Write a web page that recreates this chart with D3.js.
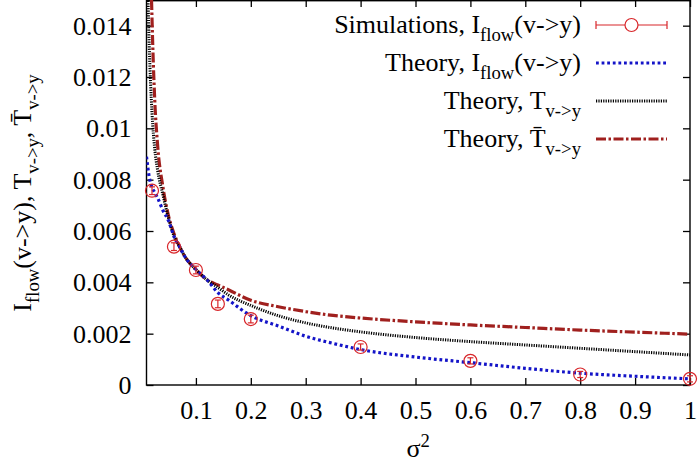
<!DOCTYPE html>
<html><head><meta charset="utf-8">
<script src="https://cdn.jsdelivr.net/npm/d3@7"></script>
<style>body{margin:0;background:#fff} svg{display:block}</style>
</head><body><svg id="c" width="700" height="464"></svg>
<script>
// ---- data ----
const sigma2 =      [0.01, 0.015, 0.02, 0.025, 0.03, 0.04, 0.05, 0.06, 0.07, 0.08, 0.1, 0.12, 0.14, 0.16, 0.2, 0.25, 0.3, 0.35, 0.4, 0.5, 0.6, 0.7, 0.8, 0.9, 1.0];
const theoryIflow = [0.0089, 0.0081, 0.0077, 0.0075, 0.0073, 0.0068, 0.0064, 0.0058, 0.0054, 0.0050, 0.0045, 0.0041, 0.0036, 0.0033, 0.0027, 0.0023, 0.0019, 0.00162, 0.00138, 0.00109, 0.00087, 0.00065, 0.00046, 0.00034, 0.00024];
const theoryT =     [0.0175, 0.0132, 0.0106, 0.0092, 0.0084, 0.0074, 0.0065, 0.0058, 0.0054, 0.0050, 0.0045, 0.0041, 0.0038, 0.0035, 0.00310, 0.00270, 0.00242, 0.00222, 0.00207, 0.00185, 0.00169, 0.00156, 0.00143, 0.00130, 0.00117];
const theoryTbar =  [0.0300, 0.0195, 0.0143, 0.0111, 0.0094, 0.0077, 0.0066, 0.0059, 0.0054, 0.0050, 0.0045, 0.0041, 0.0039, 0.0037, 0.0033, 0.00305, 0.00286, 0.00271, 0.00261, 0.00246, 0.00234, 0.00224, 0.00214, 0.00206, 0.00198];
const simSigma2 = [0.02, 0.06, 0.1, 0.14, 0.2, 0.4, 0.6, 0.8, 1.0];
const simIflow  = [0.00757, 0.00539, 0.00448, 0.00316, 0.00257, 0.00148, 0.00094, 0.00041, 0.00024];
const simErr    = [0.00015, 0.00015, 0.00015, 0.00015, 0.00015, 0.00012, 0.00012, 0.00012, 0.00012];
const xTicks = [0.1, 0.2, 0.3, 0.4, 0.5, 0.6, 0.7, 0.8, 0.9, 1];
const xTickLabels = ["0.1", "0.2", "0.3", "0.4", "0.5", "0.6", "0.7", "0.8", "0.9", "1"];
const yTicks = [0, 0.002, 0.004, 0.006, 0.008, 0.01, 0.012, 0.014];
const yTickLabels = ["0", "0.002", "0.004", "0.006", "0.008", "0.01", "0.012", "0.014"];

// ---- layout ----
const L = 146.5, R = 690, T = 0, B = 385;
const FONT = "'Liberation Serif'", FS = 26;
const RED = "#d8262a", BLUE = "#1414c8", BROWN = "#a0201e";

const svg = d3.select("#c");
const x = d3.scaleLinear().domain([0.01, 1]).range([L, R]);
const y = d3.scaleLinear().domain([0, 0.015]).range([B, T]);

svg.append("defs").append("clipPath").attr("id", "clip")
  .append("rect").attr("x", L).attr("y", T).attr("width", R - L).attr("height", B - T);

function rich(g, px, py, anchor, parts, size) {
  size = size || FS;
  const t = g.append("text").attr("x", px).attr("y", py)
    .attr("text-anchor", anchor).style("font-family", FONT).attr("font-size", size).attr("fill", "#000");
  let shift = 0;
  parts.forEach(([s, kind]) => {
    const ts = t.append("tspan").text(s);
    let target = kind === "sub" ? size * 0.32 : kind === "sup" ? -size * 0.4 : 0;
    if (target !== shift) { ts.attr("dy", target - shift); shift = target; }
    if (kind) ts.attr("font-size", size * 0.72);
  });
  return t;
}

// ---- axes ----
const tick = 7;
const gx = svg.append("g").attr("transform", `translate(0,${B})`)
  .call(d3.axisBottom(x).tickValues(xTicks).tickFormat((d, i) => xTickLabels[i]).tickSize(-tick));
const gxt = svg.append("g").attr("transform", `translate(0,${T})`)
  .call(d3.axisTop(x).tickValues(xTicks).tickFormat("").tickSize(-tick));
const gy = svg.append("g").attr("transform", `translate(${L},0)`)
  .call(d3.axisLeft(y).tickValues(yTicks).tickFormat((d, i) => yTickLabels[i]).tickSize(-tick));
const gyr = svg.append("g").attr("transform", `translate(${R},0)`)
  .call(d3.axisRight(y).tickValues(yTicks).tickFormat("").tickSize(-tick));
[gx, gxt, gy, gyr].forEach(g => {
  g.attr("font-family", null).attr("font-size", null);
  g.select(".domain").remove();
  g.selectAll(".tick line").attr("stroke", "#000").attr("stroke-width", 1.3);
});
[gx, gy].forEach(g => {
  g.selectAll(".tick text").style("font-family", FONT).attr("font-size", FS).attr("fill", "#000");
});
gx.selectAll(".tick text").attr("y", 34).attr("dy", null);
gy.selectAll(".tick text").attr("x", -15).attr("dy", "0.33em");

svg.append("rect").attr("x", L).attr("y", T + 0.7).attr("width", R - L).attr("height", B - T - 0.7)
  .attr("fill", "none").attr("stroke", "#000").attr("stroke-width", 1.4);

// ---- curves ----
const plot = svg.append("g").attr("clip-path", "url(#clip)");
const line = d3.line().x(d => x(d[0])).y(d => y(d[1])).curve(d3.curveMonotoneX);
const styles = [
  {vals: theoryTbar, color: BROWN, w: 3.2, dash: "10,2.5,2.5,2.5"},
  {vals: theoryT, color: "#000", w: 3, dash: "1.2,1.2"},
  {vals: theoryIflow, color: BLUE, w: 3.2, dash: "2.8,2.8"}
];
styles.forEach(s => {
  plot.append("path").datum(sigma2.map((v, i) => [v, s.vals[i]]))
    .attr("d", line).attr("fill", "none").attr("stroke", s.color)
    .attr("stroke-width", s.w).attr("stroke-dasharray", s.dash);
});

// ---- simulations ----
const sim = svg.append("g");
simSigma2.forEach((v, i) => {
  const cx = x(v), cy = y(simIflow[i]);
  const y1 = y(simIflow[i] + simErr[i]), y2 = y(simIflow[i] - simErr[i]);
  sim.append("line").attr("x1", cx).attr("x2", cx).attr("y1", y1).attr("y2", y2).attr("stroke", RED).attr("stroke-width", 1.2);
  [y1, y2].forEach(yy => sim.append("line").attr("x1", cx - 3).attr("x2", cx + 3).attr("y1", yy).attr("y2", yy).attr("stroke", RED).attr("stroke-width", 1.2));
  sim.append("circle").attr("cx", cx).attr("cy", cy).attr("r", 6.5).attr("fill", "none").attr("stroke", RED).attr("stroke-width", 1.2);
});

// ---- legend ----
const lg = svg.append("g");
const lx1 = 596, lx2 = 667, textX = 581;
const rows = [25, 63, 101, 139];
const TB = "T\u0304";
const labels = [
  [["Simulations, I"], ["flow", "sub"], ["(v->y)"]],
  [["Theory, I"], ["flow", "sub"], ["(v->y)"]],
  [["Theory, T"], ["v->y", "sub"]],
  [["Theory, " + TB], ["v->y", "sub"]]
];
labels.forEach((p, i) => rich(lg, textX, rows[i] + 8, "end", p));
lg.append("line").attr("x1", lx1).attr("x2", lx2).attr("y1", rows[0]).attr("y2", rows[0]).attr("stroke", RED).attr("stroke-width", 1.2);
[lx1, lx2].forEach(xx => lg.append("line").attr("x1", xx).attr("x2", xx).attr("y1", rows[0] - 4).attr("y2", rows[0] + 4).attr("stroke", RED).attr("stroke-width", 1.2));
lg.append("circle").attr("cx", (lx1 + lx2) / 2).attr("cy", rows[0]).attr("r", 6.5).attr("fill", "#fff").attr("stroke", RED).attr("stroke-width", 1.2);
[styles[2], styles[1], styles[0]].forEach((s, i) => {
  lg.append("line").attr("x1", lx1).attr("x2", lx2).attr("y1", rows[i + 1]).attr("y2", rows[i + 1])
    .attr("stroke", s.color).attr("stroke-width", s.w).attr("stroke-dasharray", s.dash);
});

// ---- axis titles ----
rich(svg, (L + R) / 2, 457, "middle", [["σ"], ["2", "sup"]]);
const yl = svg.append("g").attr("transform", `translate(31,193) rotate(-90)`);
rich(yl, 0, 0, "middle", [["I"], ["flow", "sub"], ["(v->y), T"], ["v->y", "sub"], [", " + TB], ["v->y", "sub"]]);
</script></body></html>
